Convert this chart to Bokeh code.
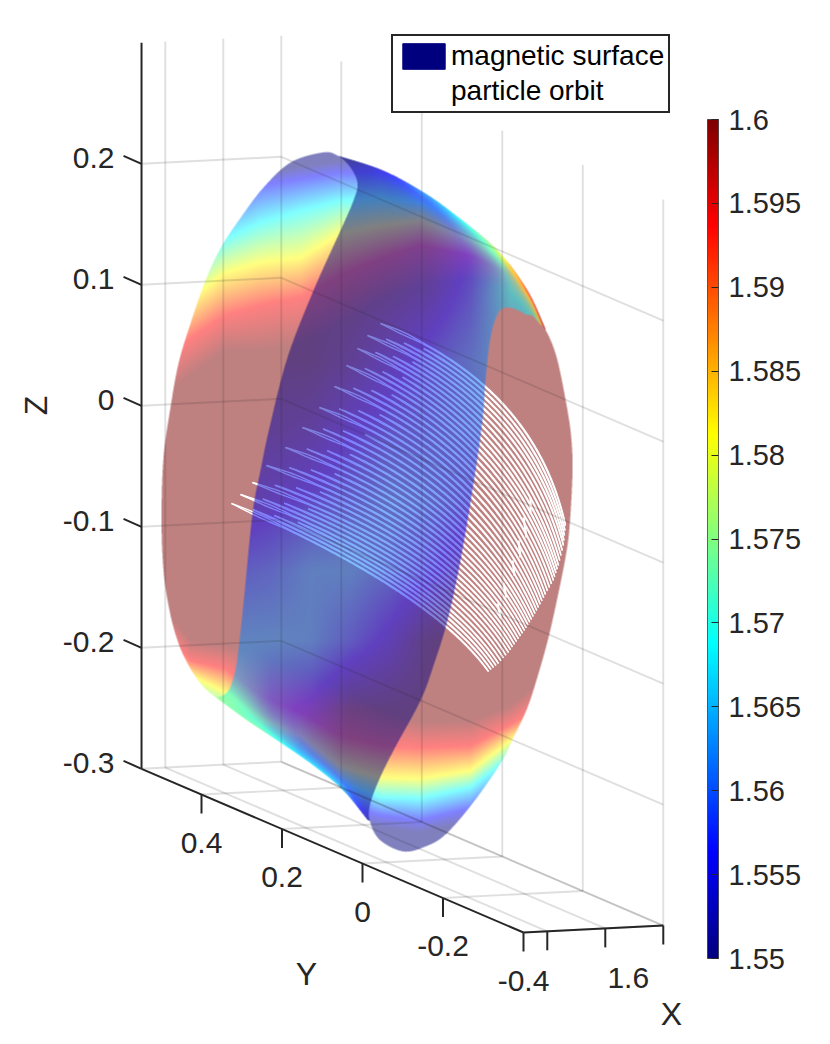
import numpy as np
from bokeh.plotting import figure
from bokeh.embed import file_html
from bokeh.resources import INLINE
from bokeh.models import (Range1d, ColorBar, LinearColorMapper, FixedTicker, Legend, LegendItem,
                          ColumnDataSource)
from bokeh.core.properties import value

FONT = "Liberation Sans"
INK = "#262626"

# ---- axis data
x_ticks = [1.5, 1.6, 1.7]
x_labels = ["", "1.6", ""]
y_ticks = [0.4, 0.2, 0.0, -0.2, -0.4]
y_labels = ["0.4", "0.2", "0", "-0.2", "-0.4"]
z_ticks = [0.2, 0.1, 0.0, -0.1, -0.2, -0.3]
z_labels = ["0.2", "0.1", "0", "-0.1", "-0.2", "-0.3"]
x_lim = (1.459, 1.7)
y_lim = (-0.4, 0.549)
z_lim = (-0.3, 0.3)
cbar_ticks = [1.55, 1.555, 1.56, 1.565, 1.57, 1.575, 1.58, 1.585, 1.59, 1.595, 1.6]
cbar_lim = (1.55, 1.6)

# ---- picture-plane outlines of the magnetic surface
left_end_x = [322,337,350,357,353,340,313,287,269,260,252,243,237,233,228,220,213,200,187,177,169,163,161,163,170,178,190,205,221,241,263,290]
left_end_y = [152,155,167,183,200,230,290,357,427,470,513,603,657,677,690,696,695,683,663,640,610,570,517,457,407,363,323,280,246,216,187,162]
right_end_x = [508,520,525,531,538,547,557,567,571,572,569,565,557,548,538,527,513,500,472,445,425,403,380,370,369,377,393,420,433,447,460,473,482,485,490,498]
right_end_y = [307,311,314,315,322,333,360,410,440,473,527,557,597,637,673,707,737,763,803,834,846,851,840,823,807,783,750,700,665,620,560,483,420,380,337,312]
rim_top_x = [330,380,420,453,497,527,547]
rim_top_y = [153,169,190,213,250,290,333]
rim_bottom_x = [213,247,280,313,343,370]
rim_bottom_y = [695,720,742,765,790,823]

# ---- colour contours of the far sheet: plane y of each colour at each station x
contour_x   = [150, 190, 225, 260, 300, 340, 380, 420, 470, 510, 540, 585]
top_blue    = [250, 225, 200, 185, 178, 172, 172, 180, 195, 220, 260, 320]
top_cyan    = [290, 265, 238, 222, 210, 200, 197, 202, 222, 245, 285, 345]
top_yellow  = [325, 298, 272, 262, 257, 233, 225, 220, 240, 260, 295, 355]
top_red     = [370, 338, 315, 305, 297, 275, 258, 245, 255, 273, 305, 365]
top_brown   = [405, 375, 350, 350, 345, 325, 300, 285, 278, 292, 322, 380]
bot_brown   = [590, 640, 645, 655, 668, 688, 708, 722, 720, 705, 680, 620]
bot_red     = [620, 660, 668, 695, 712, 735, 745, 747, 745, 724, 705, 650]
bot_yellow  = [650, 675, 692, 718, 735, 766, 777, 778, 770, 740, 725, 680]
bot_cyan    = [680, 700, 712, 735, 752, 782, 797, 798, 787, 757, 740, 700]
bot_blue    = [720, 730, 740, 770, 785, 803, 815, 820, 808, 785, 760, 720]
contour_values = [1.55, 1.55625, 1.56875, 1.58125, 1.59375, 1.6]

# ---- value of the near sheet read at grid stations
near_x = [230, 270, 310, 350, 390, 430, 470, 510]
near_y = [150, 220, 290, 360, 430, 500, 570, 640, 710, 780, 850]
near_rows = [
    [1.550, 1.550, 1.550, 1.550, 1.550, 1.550, 1.550, 1.550],
    [1.550, 1.550, 1.550, 1.550, 1.550, 1.551, 1.555, 1.560],
    [1.550, 1.550, 1.550, 1.550, 1.551, 1.553, 1.558, 1.568],
    [1.550, 1.550, 1.550, 1.552, 1.555, 1.558, 1.561, 1.565],
    [1.550, 1.552, 1.553, 1.556, 1.558, 1.559, 1.560, 1.562],
    [1.553, 1.555, 1.557, 1.559, 1.561, 1.560, 1.558, 1.556],
    [1.559, 1.560, 1.5625, 1.5625, 1.560, 1.557, 1.553, 1.550],
    [1.563, 1.563, 1.5625, 1.559, 1.555, 1.550, 1.550, 1.550],
    [1.568, 1.558, 1.555, 1.550, 1.550, 1.550, 1.550, 1.550],
    [1.560, 1.555, 1.550, 1.550, 1.550, 1.550, 1.550, 1.550],
    [1.550, 1.550, 1.550, 1.550, 1.550, 1.550, 1.550, 1.550],
]

# ---- particle orbit: tip, bend and end of each banana
orbit_tip_x = [380,367,357,346,334,319,302,285,266,252,240,231]
orbit_tip_y = [323,335,348,365,386,407,427,447,465,482,494,503]
orbit_bend_x = [534,525,515,505,495,482,470,460,452,445,437,430]
orbit_bend_y = [385,400,418,435,452,470,490,510,530,550,570,590]
orbit_end_x = [565,563,558,553,545,538,531,524,516,508,498,488]
orbit_end_y = [525,545,565,580,594,607,619,630,641,652,663,671]
# brighter white streaks where the orbit turns back on itself
streak_x0 = [530,523,518,512,503,497]
streak_y0 = [497,517,540,560,583,603]
streak_x1 = [530,526,520,514,506,500]
streak_y1 = [513,537,557,575,597,617]


# ---- projection of the 3-D axes onto the picture plane
def px(X, Y):
    return 523 + 580 * (np.asarray(X, float) - x_lim[0]) - 402.5 * (np.asarray(Y, float) - y_lim[0])


def py(X, Y, Z):
    return 932 - 29 * (np.asarray(X, float) - x_lim[0]) - 172.5 * (np.asarray(Y, float) - y_lim[0]) \
        - 1210 * (np.asarray(Z, float) - z_lim[0])


H = 1036


def flip(sy):
    return H - np.asarray(sy, float)


def jet(t):
    t = np.clip(t, 0, 1)
    r = np.interp(t, [0, .375, .625, .875, 1], [0, 0, 1, 1, .5])
    g = np.interp(t, [0, .125, .375, .625, .875, 1], [0, 0, 1, 1, 0, 0])
    b = np.interp(t, [0, .125, .375, .625, 1], [.5, 1, 1, 0, 0])
    return np.stack([r, g, b], axis=-1)


def val2t(v):
    return (np.asarray(v) - cbar_lim[0]) / (cbar_lim[1] - cbar_lim[0])


def spline(xv, yv, closed=False, n=10):
    P = np.column_stack([xv, yv]).astype(float)
    if closed:
        Q = np.vstack([P[-1], P, P[0], P[1]])
    else:
        Q = np.vstack([2 * P[0] - P[1], P, 2 * P[-1] - P[-2]])
    out = []
    for i in range(1, len(Q) - 2):
        p0, p1, p2, p3 = Q[i - 1], Q[i], Q[i + 1], Q[i + 2]
        for t in np.linspace(0, 1, n, endpoint=False):
            out.append(.5 * ((2 * p1) + (p2 - p0) * t + (2 * p0 - 5 * p1 + 4 * p2 - p3) * t ** 2
                             + (3 * p1 - p0 - 3 * p2 + p3) * t ** 3))
    out = np.array(out)
    return out[:, 0], out[:, 1]


# ---- raster of the two sheets
SS = 3
X0, X1, Y0, Y1 = 150, 585, 145, 860
xs = X0 + (np.arange((X1 - X0) * SS) + .5) / SS
ys = Y0 + (np.arange((Y1 - Y0) * SS) + .5) / SS


def poly_mask(pxs, pys):
    pxs = np.asarray(pxs, float); pys = np.asarray(pys, float)
    nx, ny = np.roll(pxs, -1), np.roll(pys, -1)
    m = np.zeros((len(ys), len(xs)), bool)
    for j, y in enumerate(ys):
        hit = ((pys <= y) & (ny > y)) | ((ny <= y) & (pys > y))
        if not hit.any():
            continue
        cx = np.sort(pxs[hit] + (y - pys[hit]) / (ny[hit] - pys[hit]) * (nx[hit] - pxs[hit]))
        for a, b in zip(cx[::2], cx[1::2]):
            m[j, np.searchsorted(xs, a):np.searchsorted(xs, b)] = True
    return m


left_mask = poly_mask(*spline(left_end_x, left_end_y, closed=True))
right_mask = poly_mask(*spline(right_end_x, right_end_y, closed=True))
rt = spline(rim_top_x, rim_top_y)
rb = spline(rim_bottom_x, rim_bottom_y)
middle_x = list(rt[0]) + [500, 400] + list(rb[0][::-1]) + [200]
middle_y = list(rt[1]) + [500, 830] + list(rb[1][::-1]) + [500]
shape_mask = left_mask | right_mask | poly_mask(middle_x, middle_y)
near_mask = shape_mask & ~left_mask & ~right_mask

tops = [top_blue, top_cyan, top_yellow, top_red, top_brown]
bots = [bot_brown, bot_red, bot_yellow, bot_cyan, bot_blue]
tab_top = np.array([np.interp(xs, contour_x, c) for c in tops])
tab_bot = np.array([np.interp(xs, contour_x, c) for c in bots])
knot_v = np.array(contour_values + contour_values[::-1])
far = np.zeros((len(ys), len(xs)))
for i in range(len(xs)):
    ky = np.concatenate([[tab_top[0, i] - 12], tab_top[:, i], tab_bot[:, i], [tab_bot[-1, i] + 12]])
    far[:, i] = np.interp(ys, ky, knot_v)

mat = np.array([np.interp(xs, near_x, r) for r in near_rows])
near = np.zeros_like(far)
for i in range(len(xs)):
    near[:, i] = np.interp(ys, near_y, mat[:, i])

rows = np.arange(len(ys))
has = shape_mask.any(axis=0)
first = np.where(has, shape_mask.argmax(axis=0), 0)
last = np.where(has, len(ys) - 1 - shape_mask[::-1].argmax(axis=0), len(ys) - 1)
dist = np.minimum(rows[:, None] - first[None, :], last[None, :] - rows[:, None]) / SS
w = np.exp(-np.clip(dist, 0, None) / 7.0)
near = near + (far - near) * w


def layer(v, mask, alpha=0.5):
    rgb = jet(val2t(v))
    a = mask * alpha
    h, wd = a.shape[0] // SS, a.shape[1] // SS
    a2 = a.reshape(h, SS, wd, SS).mean(axis=(1, 3))
    pm = (rgb * a[..., None]).reshape(h, SS, wd, SS, 3).mean(axis=(1, 3))
    col = pm / np.maximum(a2[..., None], 1e-6)
    out = np.zeros((h, wd, 4), np.uint8)
    out[..., :3] = np.clip(col * 255, 0, 255).astype(np.uint8)
    out[..., 3] = np.clip(a2 * 255, 0, 255).astype(np.uint8)
    return out[::-1].view(np.uint32).reshape(h, wd).copy()


far_img = layer(far, shape_mask)
near_img = layer(near, near_mask)

# ---- figure: 1 plot unit is 1 pixel of the picture plane
p = figure(width=822, height=H, x_range=Range1d(0, 822), y_range=Range1d(0, H),
           output_backend="svg", toolbar_location=None, min_border=0,
           background_fill_color="white", border_fill_color="white")
p.axis.visible = False
p.grid.visible = False
p.outline_line_color = None

p.image_rgba(image=[far_img], x=X0, y=flip(Y1), dw=X1 - X0, dh=Y1 - Y0)

# orbit sits between the two sheets
strands_x, strands_y = [], []
n = len(orbit_tip_x)
tt = np.linspace(0, 1, 90)
for i in range(n):
    fracs = [0, .25, .5, .75] if i < n - 1 else [0]
    starts = [0, .16, .10, .05]
    for f, s in zip(fracs, starts):
        j = min(i + 1, n - 1)
        P0 = np.array([orbit_tip_x[i] * (1 - f) + orbit_tip_x[j] * f, orbit_tip_y[i] * (1 - f) + orbit_tip_y[j] * f])
        P1 = np.array([orbit_bend_x[i] * (1 - f) + orbit_bend_x[j] * f, orbit_bend_y[i] * (1 - f) + orbit_bend_y[j] * f])
        P2 = np.array([orbit_end_x[i] * (1 - f) + orbit_end_x[j] * f, orbit_end_y[i] * (1 - f) + orbit_end_y[j] * f])
        t = s + (1 - s) * tt
        cx = (1 - t) ** 2 * P0[0] + 2 * t * (1 - t) * P1[0] + t ** 2 * P2[0]
        cy = (1 - t) ** 2 * P0[1] + 2 * t * (1 - t) * P1[1] + t ** 2 * P2[1]
        dx = np.gradient(cx); dy = np.gradient(cy)
        L = np.hypot(dx, dy)
        lens = 1.6 if f == 0 else 0.4
        bulge = (0.45 + lens * np.exp(-((tt - .07) / .05) ** 2)) * np.sin(np.pi * tt) ** 0.3
        for sign in (1, -1):
            strands_x.append(cx - sign * bulge * dy / L)
            strands_y.append(flip(cy + sign * bulge * dx / L))
orbit_r = p.multi_line(strands_x, strands_y, line_color="white", line_width=1.4)
p.segment(streak_x0, flip(streak_y0), streak_x1, flip(streak_y1), line_color="white", line_width=2.2)

p.image_rgba(image=[near_img], x=X0, y=flip(Y1), dw=X1 - X0, dh=Y1 - Y0)

# ---- grid
gx0, gy0, gx1, gy1 = [], [], [], []


def seg(a, b):
    gx0.append(float(px(a[0], a[1]))); gy0.append(float(flip(py(*a))))
    gx1.append(float(px(b[0], b[1]))); gy1.append(float(flip(py(*b))))


for z in z_ticks:
    seg((x_lim[0], y_lim[1], z), (x_lim[1], y_lim[1], z))
    seg((x_lim[1], y_lim[1], z), (x_lim[1], y_lim[0], z))
for x in x_ticks:
    seg((x, y_lim[1], z_lim[0]), (x, y_lim[1], z_lim[1]))
    seg((x, y_lim[1], z_lim[0]), (x, y_lim[0], z_lim[0]))
for y in y_ticks:
    seg((x_lim[1], y, z_lim[0]), (x_lim[1], y, z_lim[1]))
    seg((x_lim[0], y, z_lim[0]), (x_lim[1], y, z_lim[0]))
p.segment(gx0, gy0, gx1, gy1, line_color=INK, line_alpha=0.15, line_width=1.9)

# ---- axes lines and ticks
ax0, ay0, ax1, ay1 = [], [], [], []


def axseg(x0, y0, x1, y1):
    ax0.append(float(x0)); ay0.append(float(flip(y0))); ax1.append(float(x1)); ay1.append(float(flip(y1)))


corner = (x_lim[0], y_lim[1], z_lim[0])
axseg(px(corner[0], corner[1]), py(*corner), px(corner[0], corner[1]), py(corner[0], corner[1], z_lim[1]))
axseg(px(corner[0], corner[1]), py(*corner), px(x_lim[0], y_lim[0]), py(x_lim[0], y_lim[0], z_lim[0]))
axseg(px(x_lim[0], y_lim[0]), py(x_lim[0], y_lim[0], z_lim[0]), px(x_lim[1], y_lim[0]), py(x_lim[1], y_lim[0], z_lim[0]))
for z in z_ticks:
    sx, sy = px(x_lim[0], y_lim[1]), py(x_lim[0], y_lim[1], z)
    axseg(sx, sy, sx - 18, sy - 8)
for y in y_ticks:
    sx, sy = px(x_lim[0], y), py(x_lim[0], y, z_lim[0])
    axseg(sx, sy, sx, sy + 19)
for x in x_ticks:
    sx, sy = px(x, y_lim[0]), py(x, y_lim[0], z_lim[0])
    axseg(sx, sy, sx, sy + 19)
p.segment(ax0, ay0, ax1, ay1, line_color=INK, line_width=2)

# ---- tick labels and axis titles
tick_style = dict(text_font=value(FONT), text_font_size="30px", text_color=INK)
zx = [float(px(x_lim[0], y_lim[1])) - 27] * len(z_ticks)
zy = [float(flip(py(x_lim[0], y_lim[1], z) - 6)) for z in z_ticks]
p.text(zx, zy, text=z_labels, text_align="right", text_baseline="middle", **tick_style)
yx = [float(px(x_lim[0], y)) for y in y_ticks]
yy = [float(flip(py(x_lim[0], y, z_lim[0]) + 48)) for y in y_ticks]
p.text(yx, yy, text=y_labels, text_align="center", text_baseline="middle", **tick_style)
xx = [float(px(x, y_lim[0])) + 23 for x in x_ticks]
xy = [float(flip(py(x, y_lim[0], z_lim[0]) + 50)) for x in x_ticks]
p.text(xx, xy, text=x_labels, text_align="center", text_baseline="middle", **tick_style)
title_style = dict(text_font=value(FONT), text_font_size="32px", text_color=INK,
                   text_align="center", text_baseline="middle")
p.text([306], [float(flip(973))], text=["Y"], **title_style)
p.text([671], [float(flip(1013))], text=["X"], **title_style)
p.text([35], [float(flip(405))], text=["Z"], angle=np.pi / 2, **title_style)

# ---- legend
swatch = p.patches(xs="xs", ys="ys",
                   source=ColumnDataSource(dict(xs=[[np.nan, np.nan, np.nan]], ys=[[np.nan, np.nan, np.nan]])),
                   fill_color="#00007f", line_color="#00007f")
legend = Legend(items=[LegendItem(label="magnetic surface", renderers=[swatch]),
                       LegendItem(label="particle orbit", renderers=[orbit_r])],
                location=(391, 923), orientation="vertical", margin=0, padding=4, spacing=3,
                glyph_width=53, glyph_height=32, label_standoff=1,
                label_text_font=FONT, label_text_font_size="28px", label_text_color="black",
                border_line_color=INK, border_line_width=2, border_line_alpha=1, background_fill_alpha=1)
p.add_layout(legend, "center")

# ---- colour bar
palette = ["#%02x%02x%02x" % tuple(int(round(c * 255)) for c in jet(i / 255)) for i in range(256)]
mapper = LinearColorMapper(palette=palette, low=cbar_lim[0], high=cbar_lim[1])
cb = ColorBar(color_mapper=mapper, ticker=FixedTicker(ticks=cbar_ticks), width=11, height=839,
              location=(707, 78), padding=0, margin=0, label_standoff=10,
              major_label_text_font=FONT, major_label_text_font_size="29px", major_label_text_color=INK,
              major_tick_line_color=INK, major_tick_in=7, major_tick_out=0, minor_tick_line_color=None,
              bar_line_color=INK, bar_line_alpha=0.7, background_fill_alpha=0,
              major_label_overrides={t: ("%.3f" % t).rstrip("0") for t in cbar_ticks})
p.add_layout(cb, "center")

open("out.html", "w").write(file_html(p, INLINE))
